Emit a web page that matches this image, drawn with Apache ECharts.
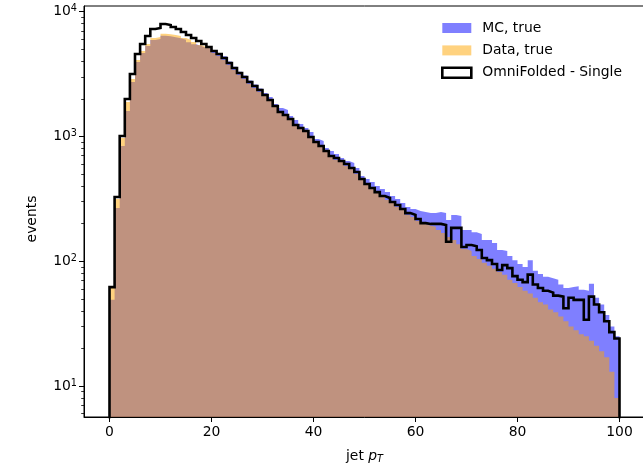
<!DOCTYPE html>
<html>
<head>
<meta charset="utf-8">
<script src="https://cdn.jsdelivr.net/npm/echarts@6/dist/echarts.min.js"></script>
<style>
  html, body { margin: 0; padding: 0; overflow: hidden; background: #fff; }
  #chart { width: 647px; height: 465px; }
</style>
</head>
<body>
<div id="chart"></div>
<script>
// Jet pT histogram: 100 bins of width 1 between 0 and 100
const binEdges = Array.from({ length: 101 }, (_, i) => i);

const mcTrue = [
  49, 267, 838, 1597, 2728, 3947, 4660, 5300, 5922, 6032,
  6420, 6350, 6230, 6130, 5950, 5690, 5480, 5290, 5120, 5080,
  4890, 4620, 4380, 3990, 3610, 3300, 3080, 2800, 2600, 2420,
  2227, 2069, 1818, 1689, 1628, 1457, 1353, 1257, 1168, 1085,
  953, 919, 807, 764, 723, 671, 635, 612, 558, 482,
  456, 431, 401, 379, 358, 333, 315, 293, 272, 262,
  253, 248, 243, 243, 248, 243, 214, 235, 230, 178,
  178, 171, 165, 148, 148, 140, 123, 121, 110, 102,
  95, 90, 102, 84, 79, 75, 73, 71, 65, 61,
  62, 63, 59, 58, 66, 51, 45, 37, 30, 25
];

const dataTrue = [
  61, 315, 971, 1886, 2884, 4095, 4835, 5500, 6144, 6259,
  6650, 6580, 6494, 6376, 6144, 5922, 5706, 5399, 5204, 5016,
  4660, 4409, 4095, 3734, 3405, 3105, 2884, 2630, 2442, 2269,
  2107, 1921, 1720, 1568, 1457, 1353, 1212, 1147, 1085, 989,
  885, 822, 750, 684, 647, 623, 579, 548, 500, 447,
  408, 379, 352, 327, 309, 293, 272, 257, 235, 226,
  210, 199, 192, 189, 178, 168, 156, 148, 137, 125,
  121, 110, 104, 97, 92, 87, 82, 78, 71, 67,
  62, 58, 55, 51, 47, 45, 41, 39, 36, 33,
  30, 28, 26, 25, 23, 21, 19, 17, 13, 8
];

const omniSingle = [
  62, 327, 1007, 1994, 3162, 4575, 5500, 6376, 7254, 7389,
  7956, 7810, 7527, 7254, 6864, 6494, 6144, 5813, 5500, 5204,
  4835, 4575, 4249, 3874, 3533, 3221, 2992, 2728, 2534, 2353,
  2146, 1957, 1752, 1568, 1484, 1378, 1234, 1168, 1105, 989,
  902, 838, 764, 697, 671, 635, 601, 558, 518, 456,
  416, 386, 358, 333, 321, 298, 282, 262, 243, 235,
  218, 202, 199, 199, 199, 195, 143, 185, 185, 130,
  135, 132, 123, 106, 102, 95, 85, 93, 88, 76,
  71, 68, 78, 65, 61, 58, 56, 53, 52, 42,
  51, 49, 49, 34, 52, 45, 39, 33, 27, 24
];

const xTicks = [0, 20, 40, 60, 80, 100];
const yMajorTicks = [10, 100, 1000, 10000];
const yMinorTicks = [6, 7, 8, 9, 20, 30, 40, 50, 60, 70, 80, 90,
  200, 300, 400, 500, 600, 700, 800, 900,
  2000, 3000, 4000, 5000, 6000, 7000, 8000, 9000];

const seriesNames = ['MC, true', 'Data, true', 'OmniFolded - Single'];

const FONT = 'DejaVu Sans';
const FS = 13.9;
const INK = '#000';
const Y_MIN = 5.645;
const Y_MAX = 11090;
const FLOOR = 1; // sits below the axis minimum, closes the step outline at both ends

// Step points for a histogram: each bin value held from its left edge to the next edge
function stepPoints(values) {
  const pts = values.map((v, i) => [binEdges[i], v]);
  pts.push([binEdges[values.length], values[values.length - 1]]);
  return pts;
}
function outlinePoints(values) {
  return [[binEdges[0], FLOOR]].concat(stepPoints(values), [[binEdges[values.length], FLOOR]]);
}

const chart = echarts.init(document.getElementById('chart'), null, { renderer: 'canvas' });

const baseYAxis = {
  type: 'log',
  logBase: 10,
  min: Y_MIN,
  max: Y_MAX,
  position: 'left',
  splitLine: { show: false },
  minorTick: { show: false },
  minorSplitLine: { show: false }
};

chart.setOption({
  animation: false,
  backgroundColor: '#fff',
  textStyle: { fontFamily: FONT },
  grid: {
    left: 84, right: 2, top: 6, bottom: 48,
    show: true, borderColor: INK, borderWidth: 1, backgroundColor: 'transparent',
    containLabel: false,
    outerBoundsMode: 'none'
  },
  legend: {
    orient: 'vertical',
    left: 441, top: 21,
    padding: 0,
    itemWidth: 29, itemHeight: 10, itemGap: 8.4,
    selectedMode: false,
    textStyle: { fontFamily: FONT, fontSize: FS, color: INK, padding: [0, 0, 0, 6] },
    data: [
      { name: seriesNames[0], icon: 'rect', itemStyle: { color: 'rgba(0,0,255,0.5)', borderWidth: 0 } },
      { name: seriesNames[1], icon: 'rect', itemStyle: { color: 'rgba(255,165,0,0.5)', borderWidth: 0 } },
      { name: seriesNames[2], icon: 'rect', itemStyle: { color: '#fff', borderColor: INK, borderWidth: 2.6 } }
    ]
  },
  xAxis: {
    type: 'value',
    min: -5, max: 105,
    z: 10,
    splitLine: { show: false },
    axisLine: { show: true, onZero: false, lineStyle: { color: INK, width: 1 } },
    axisTick: { show: true, length: 5, customValues: xTicks, lineStyle: { color: INK, width: 1 } },
    axisLabel: {
      customValues: xTicks, margin: 8,
      fontFamily: FONT, fontSize: FS, color: INK
    },
    name: 'jet {i|p}{sub|T}',
    nameLocation: 'middle',
    nameGap: 31,
    nameTextStyle: {
      fontFamily: FONT, fontSize: FS, color: INK,
      rich: {
        i: { fontFamily: FONT, fontSize: FS, fontStyle: 'italic', color: INK },
        sub: { fontFamily: FONT, fontSize: 9.7, fontStyle: 'italic', color: INK, verticalAlign: 'bottom', padding: [6, 0, 0, 0] }
      }
    }
  },
  yAxis: [
    Object.assign({}, baseYAxis, {
      z: 10,
      axisLine: { show: true, onZero: false, lineStyle: { color: INK, width: 1 } },
      axisTick: { show: true, length: 5, customValues: yMajorTicks, lineStyle: { color: INK, width: 1 } },
      axisLabel: {
        customValues: yMajorTicks, margin: 7,
        formatter: (v) => '{b|10}{s|' + Math.round(Math.log10(v)) + '}',
        rich: {
          b: { fontFamily: FONT, fontSize: FS, color: INK },
          s: { fontFamily: FONT, fontSize: 9.7, color: INK, verticalAlign: 'top', padding: [0, 0, 6, 0] }
        }
      },
      name: 'events',
      nameLocation: 'middle',
      nameGap: 45,
      nameTextStyle: { fontFamily: FONT, fontSize: FS, color: INK, padding: [0, 15, 0, 0] }
    }),
    Object.assign({}, baseYAxis, {
      z: 10,
      axisLine: { show: false, onZero: false },
      axisTick: { show: true, length: 2.8, customValues: yMinorTicks, lineStyle: { color: INK, width: 0.8 } },
      axisLabel: { show: false }
    })
  ],
  series: [
    {
      name: seriesNames[0], type: 'line', step: 'end', yAxisIndex: 0,
      data: stepPoints(mcTrue), symbol: 'none', color: 'rgba(0,0,255,0.5)',
      lineStyle: { width: 0, opacity: 0 },
      areaStyle: { color: 'rgba(0,0,255,0.5)', opacity: 1, origin: 'start' },
      z: 2
    },
    {
      name: seriesNames[1], type: 'line', step: 'end', yAxisIndex: 0,
      data: stepPoints(dataTrue), symbol: 'none', color: 'rgba(255,165,0,0.5)',
      lineStyle: { width: 0, opacity: 0 },
      areaStyle: { color: 'rgba(255,165,0,0.5)', opacity: 1, origin: 'start' },
      z: 3
    },
    {
      name: seriesNames[2], type: 'line', step: 'end', yAxisIndex: 0,
      data: outlinePoints(omniSingle), symbol: 'none', color: INK,
      lineStyle: { width: 2.6, color: INK, join: 'miter' },
      clip: true,
      z: 4
    }
  ]
});
</script>
</body>
</html>
